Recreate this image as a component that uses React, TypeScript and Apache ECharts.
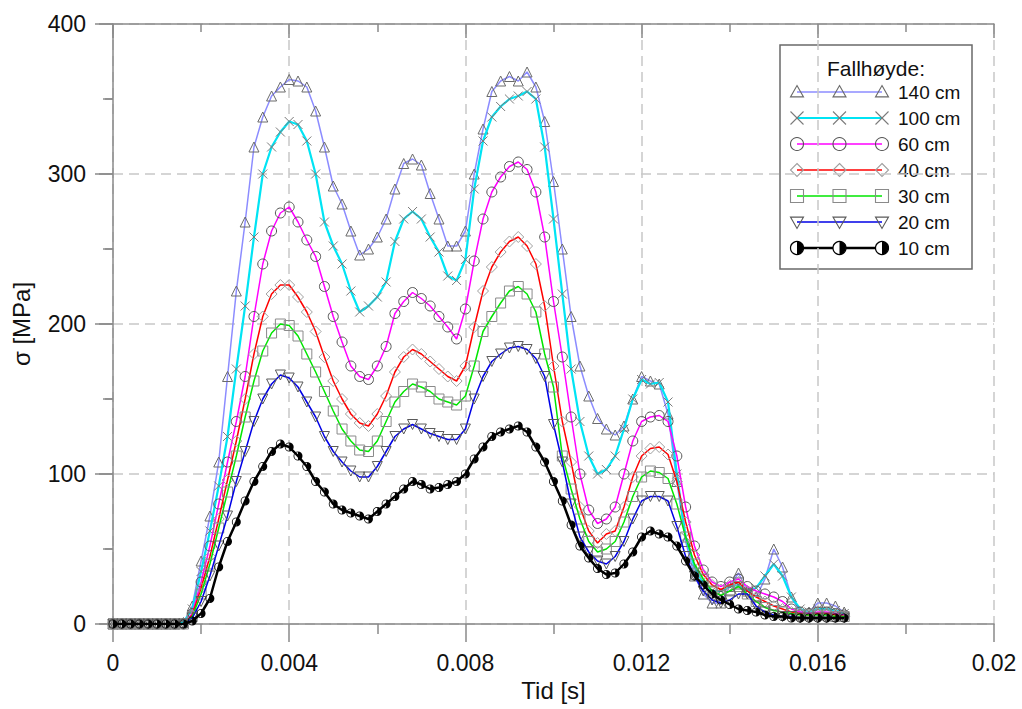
import React, { useEffect, useRef } from "react";
import * as echarts from "echarts";

// Sampling grid of the measurement [s]
const TID_STEG = 0.0002;
const tid: number[] = Array.from({ length: 84 }, (_, i) => Number((i * TID_STEG).toFixed(4)));

const serieNavn = ["140 cm", "100 cm", "60 cm", "40 cm", "30 cm", "20 cm", "10 cm"];
const linjeFarger = ["#8c8cff", "#00e4f4", "#ff00ff", "#ff0000", "#00e600", "#0000e6", "#000000"];
const linjeBredder = [1.5, 2.2, 1.5, 1.5, 1.5, 1.5, 2.5];
const markorer = ["triangle", "cross", "circle", "diamond", "square", "triangleDown", "halfCircle"];
const markorFarger = ["#6a6a6a", "#7a7a7a", "#555555", "#a0a0a0", "#8a8a8a", "#5a5a5a", "#000000"];

// Stress [MPa] per drop height
const s140 = [0, 0, 0, 0, 0, 0, 0, 0, 1, 12, 42, 72, 108, 165, 222, 268, 318, 338, 352, 358, 363, 362, 358, 342, 318, 292, 280, 262, 246, 250, 258, 270, 290, 307, 310, 306, 287, 270, 252, 252, 262, 300, 330, 355, 362, 365, 362, 368, 358, 335, 295, 250, 205, 172, 152, 137, 130, 126, 132, 150, 165, 162, 160, 140, 95, 55, 32, 20, 14, 14, 25, 34, 22, 18, 30, 50, 38, 18, 8, 8, 14, 14, 12, 8];
const s100 = [0, 0, 0, 0, 0, 0, 0, 0, 1, 10, 35, 62, 92, 125, 170, 212, 258, 300, 318, 328, 335, 333, 322, 300, 268, 252, 240, 222, 208, 212, 218, 228, 255, 270, 275, 270, 258, 248, 232, 229, 243, 290, 322, 338, 345, 350, 352, 355, 350, 318, 270, 220, 170, 135, 112, 100, 103, 112, 130, 150, 163, 160, 161, 148, 100, 58, 38, 27, 22, 22, 25, 26, 22, 24, 32, 40, 32, 18, 10, 8, 10, 10, 9, 7];
const s60 = [0, 0, 0, 0, 0, 0, 0, 0, 0, 7, 28, 52, 80, 108, 135, 165, 205, 240, 262, 274, 278, 268, 256, 245, 225, 205, 188, 172, 165, 163, 172, 185, 207, 215, 221, 217, 212, 205, 198, 190, 210, 242, 270, 288, 298, 305, 308, 303, 288, 258, 215, 178, 138, 100, 76, 67, 70, 78, 100, 122, 135, 138, 139, 135, 112, 78, 52, 36, 28, 25, 28, 30, 25, 22, 20, 18, 15, 10, 8, 7, 8, 8, 7, 6];
const s40 = [0, 0, 0, 0, 0, 0, 0, 0, 0, 6, 24, 45, 70, 96, 122, 150, 180, 205, 220, 226, 226, 218, 208, 195, 178, 162, 150, 140, 134, 132, 140, 152, 168, 178, 183, 180, 175, 170, 165, 162, 172, 198, 222, 238, 248, 255, 258, 252, 240, 212, 172, 135, 108, 78, 62, 54, 60, 62, 78, 98, 112, 117, 118, 113, 95, 68, 46, 33, 26, 23, 26, 28, 22, 18, 15, 12, 10, 8, 7, 6, 7, 7, 6, 5];
const s30 = [0, 0, 0, 0, 0, 0, 0, 0, 0, 5, 20, 40, 64, 88, 112, 138, 162, 182, 194, 200, 199, 192, 180, 168, 155, 142, 130, 122, 116, 115, 122, 135, 148, 155, 160, 158, 155, 150, 148, 146, 152, 172, 195, 205, 214, 222, 225, 220, 208, 180, 158, 112, 90, 70, 55, 48, 50, 55, 68, 85, 98, 102, 101, 97, 80, 58, 40, 30, 22, 19, 22, 25, 20, 15, 11, 9, 8, 7, 6, 6, 6, 6, 5, 5];
const s20 = [0, 0, 0, 0, 0, 0, 0, 0, 0, 4, 15, 32, 52, 72, 95, 115, 135, 150, 160, 166, 164, 158, 148, 138, 125, 115, 108, 102, 98, 98, 105, 115, 125, 130, 133, 130, 127, 125, 123, 123, 130, 150, 165, 175, 180, 184, 185, 183, 177, 165, 133, 108, 80, 58, 48, 42, 40, 45, 55, 70, 82, 85, 85, 82, 65, 45, 32, 22, 16, 14, 16, 20, 20, 12, 8, 6, 5, 5, 4, 4, 4, 4, 4, 4];
const s10 = [0, 0, 0, 0, 0, 0, 0, 0, 0, 2, 7, 17, 38, 55, 68, 82, 95, 105, 115, 120, 118, 112, 105, 95, 88, 80, 76, 74, 72, 70, 75, 80, 85, 90, 95, 93, 90, 91, 93, 95, 100, 110, 118, 125, 128, 130, 132, 128, 118, 108, 95, 82, 66, 52, 44, 37, 33, 34, 40, 48, 58, 62, 60, 58, 52, 42, 32, 26, 20, 16, 13, 10, 9, 8, 6, 5, 5, 4, 4, 4, 4, 4, 4, 4];

const serieVerdier = [s140, s100, s60, s40, s30, s20, s10];

const xTicks = [0, 0.004, 0.008, 0.012, 0.016, 0.02];
const yTicks = [0, 100, 200, 300, 400];

const FONT = "'Liberation Sans', Arial, Helvetica, sans-serif";
const AXIS_COLOR = "#8a8a8a";

// Symbol definitions for the series markers
const halfCircle =
  "path://M5,0A5,5 0 1 1 5,10A5,5 0 1 1 5,0Z" +
  "M5,0.9A4.1,4.1 0 1 0 5,9.1A4.1,4.1 0 1 0 5,0.9Z" +
  "M5,0.9A4.1,4.1 0 0 1 5,9.1Z";

const seriesSymbol: Record<string, { symbol: string; size: number; fill: string; bw: number }> = {
  triangle: { symbol: "triangle", size: 10, fill: "transparent", bw: 1 },
  cross: { symbol: "path://M0,0L10,10M10,0L0,10", size: 9, fill: "transparent", bw: 1 },
  circle: { symbol: "circle", size: 10, fill: "transparent", bw: 1 },
  diamond: { symbol: "diamond", size: 11, fill: "transparent", bw: 1 },
  square: { symbol: "rect", size: 10, fill: "transparent", bw: 1 },
  triangleDown: { symbol: "path://M0,0L10,0L5,8.66Z", size: 10, fill: "transparent", bw: 1 },
  halfCircle: { symbol: halfCircle, size: 9, fill: "#000000", bw: 0 },
};

// Legend marker drawn with graphic elements
function legendMarker(kind: string, x: number, y: number, color: string): any[] {
  const r = 6.5;
  const stroke = { stroke: color, lineWidth: 1.1, fill: "none" };
  switch (kind) {
    case "triangle":
      return [{ type: "polygon", shape: { points: [[x, y - r], [x + r, y + r * 0.75], [x - r, y + r * 0.75]] }, style: stroke }];
    case "cross":
      return [
        { type: "line", shape: { x1: x - r, y1: y - r, x2: x + r, y2: y + r }, style: stroke },
        { type: "line", shape: { x1: x - r, y1: y + r, x2: x + r, y2: y - r }, style: stroke },
      ];
    case "circle":
      return [{ type: "circle", shape: { cx: x, cy: y, r: r }, style: stroke }];
    case "diamond":
      return [{ type: "polygon", shape: { points: [[x, y - r], [x + r, y], [x, y + r], [x - r, y]] }, style: stroke }];
    case "square":
      return [{ type: "rect", shape: { x: x - r, y: y - r, width: 2 * r, height: 2 * r }, style: stroke }];
    case "triangleDown":
      return [{ type: "polygon", shape: { points: [[x - r, y - r * 0.75], [x + r, y - r * 0.75], [x, y + r]] }, style: stroke }];
    default:
      return [
        { type: "circle", shape: { cx: x, cy: y, r: r }, style: { fill: "#ffffff", stroke: "#000", lineWidth: 1.2 } },
        { type: "sector", shape: { cx: x, cy: y, r0: 0, r: r, startAngle: -Math.PI / 2, endAngle: Math.PI / 2, clockwise: true }, style: { fill: "#000" } },
      ];
  }
}

function buildLegend(): any[] {
  const els: any[] = [];
  const left = 780;
  const top = 45;
  els.push({ type: "rect", shape: { x: left, y: top, width: 192, height: 224 }, style: { fill: "none", stroke: "#6a6a6a", lineWidth: 1.5 } });
  els.push({ type: "text", x: 876, y: 68, style: { text: "Fallhøyde:", font: `21px ${FONT}`, fill: "#111", align: "center", verticalAlign: "middle" } });
  serieNavn.forEach((navn, k) => {
    const y = 92 + k * 26;
    els.push({ type: "line", shape: { x1: 797, y1: y, x2: 882, y2: y }, style: { stroke: linjeFarger[k], lineWidth: linjeBredder[k] } });
    [797, 839.5, 882].forEach((mx) => {
      legendMarker(markorer[k], mx, y, markorFarger[k]).forEach((e) => els.push(e));
    });
    els.push({ type: "text", x: 898, y: y, style: { text: navn, font: `19px ${FONT}`, fill: "#111", align: "left", verticalAlign: "middle" } });
  });
  return els;
}

export default function App() {
  const ref = useRef<HTMLDivElement>(null);

  useEffect(() => {
    if (!ref.current) return;
    const chart = echarts.init(ref.current, undefined, { renderer: "svg" });

    const tickLabel = (v: number) => (v === 0 ? "0" : String(Number(v.toFixed(3))));

    const series = serieNavn.map((navn, k) => {
      const sym = seriesSymbol[markorer[k]];
      return {
        type: "line",
        name: navn,
        data: tid.map((t, i) => [t, serieVerdier[k][i]]),
        symbol: sym.symbol,
        symbolSize: sym.size,
        showAllSymbol: true,
        lineStyle: { color: linjeFarger[k], width: linjeBredder[k] },
        itemStyle: { color: sym.fill, borderColor: markorFarger[k], borderWidth: sym.bw },
        emphasis: { disabled: true },
        silent: true,
        z: 2 + k,
      };
    });

    chart.setOption({
      animation: false,
      backgroundColor: "#ffffff",
      textStyle: { fontFamily: FONT },
      grid: { left: 113, right: 28, top: 24, bottom: 85, containLabel: false },
      xAxis: [
        {
          type: "value",
          position: "bottom",
          min: xTicks[0],
          max: xTicks[xTicks.length - 1],
          interval: 0.004,
          name: "Tid [s]",
          nameLocation: "middle",
          nameGap: 53,
          nameTextStyle: { fontSize: 24, color: "#111", fontFamily: FONT },
          axisLine: { show: true, onZero: false, lineStyle: { color: AXIS_COLOR, width: 1.5 } },
          axisTick: { show: true, inside: false, length: 18, lineStyle: { color: AXIS_COLOR, width: 1.5 } },
          minorTick: { show: true, splitNumber: 2, length: 10, lineStyle: { color: AXIS_COLOR, width: 1.5 } },
          axisLabel: { fontSize: 23, color: "#111", margin: 27, fontFamily: FONT, formatter: tickLabel },
          splitLine: { show: true, lineStyle: { color: "#c8c8c8", width: 1.5, type: [10, 6] } },
        },
        {
          type: "value",
          position: "top",
          min: xTicks[0],
          max: xTicks[xTicks.length - 1],
          interval: 0.004,
          axisLine: { show: true, onZero: false, lineStyle: { color: AXIS_COLOR, width: 1.5 } },
          axisTick: { show: true, inside: true, length: 14, lineStyle: { color: AXIS_COLOR, width: 1.5 } },
          minorTick: { show: true, splitNumber: 2, length: 8, lineStyle: { color: AXIS_COLOR, width: 1.5 } },
          axisLabel: { show: false },
          splitLine: { show: false },
        },
      ],
      yAxis: [
        {
          type: "value",
          position: "left",
          min: yTicks[0],
          max: yTicks[yTicks.length - 1],
          interval: 100,
          name: "σ [MPa]",
          nameLocation: "middle",
          nameGap: 80,
          nameRotate: 90,
          nameTextStyle: { fontSize: 24, color: "#111", fontFamily: FONT },
          axisLine: { show: true, onZero: false, lineStyle: { color: AXIS_COLOR, width: 1.5 } },
          axisTick: { show: true, inside: false, length: 18, lineStyle: { color: AXIS_COLOR, width: 1.5 } },
          minorTick: { show: true, splitNumber: 2, length: 10, lineStyle: { color: AXIS_COLOR, width: 1.5 } },
          axisLabel: { fontSize: 23, color: "#111", margin: 27, fontFamily: FONT },
          splitLine: { show: true, lineStyle: { color: "#c8c8c8", width: 1.5, type: [10, 6] } },
        },
        {
          type: "value",
          position: "right",
          min: yTicks[0],
          max: yTicks[yTicks.length - 1],
          interval: 100,
          axisLine: { show: false },
          axisTick: { show: true, inside: true, length: 14, lineStyle: { color: AXIS_COLOR, width: 1.5 } },
          minorTick: { show: true, splitNumber: 2, length: 8, lineStyle: { color: AXIS_COLOR, width: 1.5 } },
          axisLabel: { show: false },
          splitLine: { show: false },
        },
      ],
      series,
      graphic: { elements: buildLegend() },
    });

    return () => chart.dispose();
  }, []);

  return (
    <div
      ref={ref}
      style={{ position: "absolute", left: 0, top: 0, width: 1022, height: 709, background: "#fff" }}
    />
  );
}
